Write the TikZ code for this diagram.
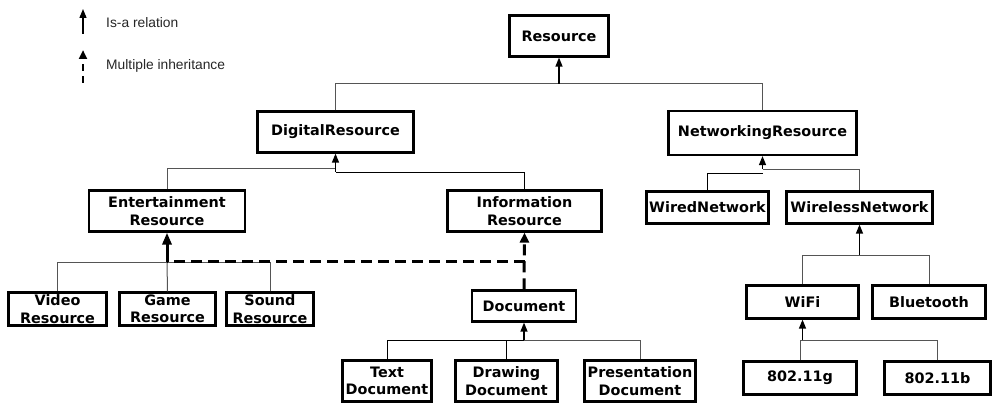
\documentclass[tikz,border=0pt]{standalone}
\usepackage{fontspec}
\newfontfamily\boxfont{DejaVu Sans}
\newfontfamily\legfont{Liberation Sans}
\usetikzlibrary{arrows.meta}
\definecolor{branchgray}{HTML}{555555}
\tikzset{
  cls/.style={draw=black, line width=2.2pt, fill=white, inner sep=0pt, align=center,
    font=\boxfont\bfseries\fontsize{14.4}{17.5}\selectfont},
  branch/.style={draw=branchgray, line width=1pt},
  branchb/.style={draw=black, line width=1pt},
  isa/.style={draw=black, line width=1.3pt, -{Triangle[length=9pt,width=7pt]}},
  multi/.style={draw=black, line width=3pt, dash pattern=on 11pt off 6pt, -{Triangle[length=10pt,width=9pt]}},
  multiline/.style={draw=black, line width=3pt, dash pattern=on 11pt off 6pt},
  multisolid/.style={draw=black, line width=3pt, -{Triangle[length=12pt,width=9pt]}},
  legtext/.style={anchor=west, inner sep=0pt, text=black!85, font=\legfont\fontsize{13.8}{16}\selectfont}
}
\begin{document}
\begin{tikzpicture}[x=1pt,y=-1pt]
\useasboundingbox (0,0) rectangle (992,409);

% legend
\coordinate (l1a) at (83,34);
\coordinate (l1b) at (83,9);
\draw[isa] (l1a) -- (l1b);
\node[legtext] (lt1) at (106,23) {Is-a relation};
\coordinate (l2a) at (83,83);
\coordinate (l2b) at (83,50);
\draw[line width=2.6pt, dash pattern=on 7pt off 5pt, -{Triangle[length=9pt,width=8pt]}] (l2a) -- (l2b);
\node[legtext] (lt2) at (106,66) {Multiple inheritance};

% nodes
\node[cls, minimum width=99, minimum height=41] (res) at (559,36) {Resource};
\node[cls, minimum width=156, minimum height=41] (dig) at (335.5,132) {DigitalResource};
\node[cls, minimum width=188, minimum height=44] (net) at (762.5,133) {NetworkingResource};
\node[cls, minimum width=156, minimum height=41] (ent) at (167,211) {Entertainment\\Resource};
\node[cls, minimum width=154, minimum height=41] (inf) at (524.5,211) {Information\\Resource};
\node[cls, minimum width=122, minimum height=32] (wired) at (707.5,207.5) {WiredNetwork};
\node[cls, minimum width=146, minimum height=32] (wless) at (859.5,207.5) {WirelessNetwork};
\node[cls, minimum width=98, minimum height=33] (video) at (57.5,309) {Video\\Resource};
\node[cls, minimum width=96, minimum height=33] (game) at (167.5,309) {Game\\Resource};
\node[cls, minimum width=87, minimum height=33] (sound) at (270,309) {Sound\\Resource};
\node[cls, minimum width=104, minimum height=31] (doc) at (524,306) {Document};
\node[cls, minimum width=89, minimum height=41] (text) at (387,381) {Text\\Document};
\node[cls, minimum width=102, minimum height=41] (drawing) at (506.5,381) {Drawing\\Document};
\node[cls, minimum width=111, minimum height=41] (pres) at (640,381) {Presentation\\Document};
\node[cls, minimum width=112, minimum height=33] (wifi) at (802.5,302) {WiFi};
\node[cls, minimum width=113, minimum height=33] (bt) at (929,302) {Bluetooth};
\node[cls, minimum width=113, minimum height=33] (g) at (800,378) {802.11g};
\node[cls, minimum width=106, minimum height=33] (b) at (937.5,378) {802.11b};

% bus coordinates
\coordinate (bRes) at (559,84);
\coordinate (bDigL) at (335.5,168);
\coordinate (bDigR) at (335.5,172);
\coordinate (bEnt) at (167,262);
\coordinate (bDoc) at (524,340);
\coordinate (bNetL) at (762.5,173);
\coordinate (bNetR) at (762.5,169);
\coordinate (bWl) at (859.5,255);
\coordinate (bWifi) at (802.5,340);
\coordinate (mJ) at (524.5,261);
\coordinate (mE) at (167,261);

% Resource
\draw[branch] (dig.north) |- (bRes);
\draw[branch] (net.north) |- (bRes);
\draw[isa] (bRes) -- (res.south);
% DigitalResource
\draw[branch] (ent.north) |- (bDigL);
\draw[branchb] (inf.north) |- (bDigR);
\draw[isa] (bDigR) -- (dig.south);
% Entertainment
\draw[branch] (video.north) |- (bEnt);
\draw[branch] (game.north) -- (bEnt);
\draw[branch] (sound.north) |- (bEnt);
% Document
\draw[branchb] (text.north) |- (bDoc);
\draw[branchb] (drawing.north) |- (bDoc);
\draw[branch] (pres.north) |- (bDoc);
\draw[isa] (bDoc) -- (doc.south);
% Networking
\draw[branchb] (wired.north) |- (bNetL);
\draw[branch] (wless.north) |- (bNetR);
\draw[isa] (bNetR) -- (net.south);
% Wireless
\draw[branch] (wifi.north) |- (bWl);
\draw[branch] (bt.north) |- (bWl);
\draw[isa] (bWl) -- (wless.south);
% WiFi
\draw[branch] (g.north) |- (bWifi);
\draw[branch] (b.north) |- (bWifi);
\draw[isa] (bWifi) -- (wifi.south);

% multiple inheritance
\draw[multi] (doc.north) -- (inf.south);
\draw[multiline] (mJ) -- (mE);
\draw[multisolid] (bEnt) -- (ent.south);
\end{tikzpicture}
\end{document}
